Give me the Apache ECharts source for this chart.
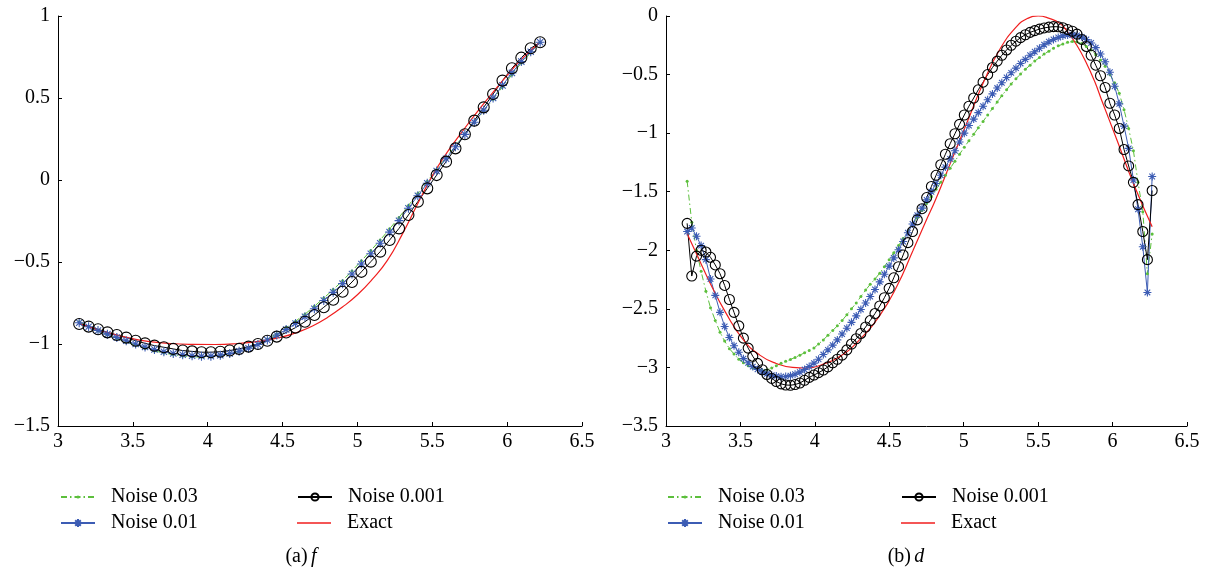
<!DOCTYPE html>
<html>
<head>
<meta charset="utf-8">
<script src="https://cdn.jsdelivr.net/npm/echarts@6/dist/echarts.min.js"></script>
<style>
html,body{margin:0;padding:0;background:#fff;}
#chart{width:1209px;height:579px;}
</style>
</head>
<body>
<div id="chart"></div>
<script>
// ---------- Left panel (a) f ----------
const xLeft = [3.1416,3.2044,3.2673,3.3301,3.3929,3.4558,3.5186,3.5814,3.6442,3.7071,3.7699,3.8327,3.8956,3.9584,4.0212,4.0841,4.1469,4.2097,4.2726,4.3354,4.3982,4.4611,4.5239,4.5867,4.6496,4.7124,4.7752,4.8381,4.9009,4.9637,5.0265,5.0894,5.1522,5.2150,5.2779,5.3407,5.4035,5.4664,5.5292,5.5920,5.6549,5.7177,5.7805,5.8434,5.9062,5.9690,6.0319,6.0947,6.1575,6.2204];
const noise003Left = [-0.865,-0.893,-0.920,-0.945,-0.967,-0.988,-1.008,-1.026,-1.042,-1.055,-1.065,-1.073,-1.078,-1.080,-1.078,-1.071,-1.060,-1.045,-1.025,-1.000,-0.970,-0.937,-0.900,-0.861,-0.818,-0.770,-0.720,-0.668,-0.614,-0.555,-0.493,-0.430,-0.366,-0.298,-0.228,-0.155,-0.082,-0.008,0.064,0.137,0.208,0.280,0.350,0.420,0.492,0.567,0.642,0.713,0.776,0.838];
const noise001Left = [-0.870,-0.895,-0.918,-0.940,-0.960,-0.980,-1.000,-1.018,-1.034,-1.047,-1.058,-1.066,-1.072,-1.075,-1.074,-1.068,-1.058,-1.044,-1.026,-1.003,-0.976,-0.945,-0.912,-0.875,-0.834,-0.785,-0.735,-0.685,-0.632,-0.573,-0.512,-0.450,-0.386,-0.318,-0.248,-0.172,-0.096,-0.020,0.055,0.130,0.203,0.278,0.352,0.425,0.500,0.577,0.653,0.722,0.782,0.840];
const noise0001Left = [-0.878,-0.894,-0.910,-0.929,-0.945,-0.961,-0.980,-0.996,-1.010,-1.020,-1.030,-1.040,-1.045,-1.050,-1.050,-1.047,-1.040,-1.030,-1.016,-1.000,-0.980,-0.955,-0.930,-0.900,-0.864,-0.823,-0.776,-0.730,-0.681,-0.622,-0.560,-0.498,-0.437,-0.366,-0.295,-0.213,-0.132,-0.051,0.030,0.112,0.193,0.279,0.362,0.443,0.524,0.606,0.681,0.746,0.803,0.840];
const exactXLeft = [3.1416,3.30,3.45,3.60,3.75,3.90,4.05,4.20,4.35,4.50,4.60,4.70,4.80,4.90,5.00,5.10,5.20,5.30,5.40,5.50,5.60,5.70,5.80,5.90,6.00,6.10,6.2204];
const exactYLeft = [-0.875,-0.922,-0.958,-0.984,-0.997,-1.002,-1.003,-0.997,-0.983,-0.957,-0.928,-0.890,-0.838,-0.775,-0.700,-0.605,-0.490,-0.330,-0.150,0.025,0.170,0.295,0.415,0.528,0.638,0.740,0.840];

// ---------- Right panel (b) d ----------
const xRight = [3.142,3.173,3.205,3.236,3.268,3.299,3.331,3.363,3.394,3.426,3.457,3.489,3.520,3.552,3.583,3.615,3.647,3.678,3.710,3.741,3.773,3.804,3.836,3.867,3.899,3.931,3.962,3.994,4.025,4.057,4.088,4.120,4.151,4.183,4.215,4.246,4.278,4.309,4.341,4.372,4.404,4.436,4.467,4.499,4.530,4.562,4.593,4.625,4.656,4.688,4.720,4.751,4.783,4.814,4.846,4.877,4.909,4.941,4.972,5.004,5.035,5.067,5.098,5.130,5.161,5.193,5.225,5.256,5.288,5.319,5.351,5.382,5.414,5.446,5.477,5.509,5.540,5.572,5.603,5.635,5.666,5.698,5.730,5.761,5.793,5.824,5.856,5.887,5.919,5.950,5.982,6.014,6.045,6.077,6.108,6.140,6.171,6.203,6.234,6.266];
const noise003Right = [-1.41,-1.76,-2.00,-2.18,-2.35,-2.49,-2.60,-2.70,-2.775,-2.84,-2.885,-2.93,-2.96,-2.985,-3.005,-3.02,-3.025,-3.02,-3.005,-2.985,-2.965,-2.948,-2.932,-2.915,-2.895,-2.875,-2.855,-2.835,-2.80,-2.765,-2.725,-2.685,-2.645,-2.60,-2.55,-2.50,-2.45,-2.395,-2.34,-2.29,-2.245,-2.195,-2.14,-2.08,-2.02,-1.96,-1.90,-1.84,-1.78,-1.72,-1.66,-1.60,-1.54,-1.48,-1.42,-1.36,-1.30,-1.24,-1.18,-1.12,-1.065,-1.01,-0.955,-0.90,-0.845,-0.79,-0.735,-0.68,-0.63,-0.58,-0.535,-0.495,-0.455,-0.42,-0.385,-0.355,-0.325,-0.30,-0.275,-0.255,-0.24,-0.225,-0.218,-0.22,-0.235,-0.26,-0.29,-0.33,-0.375,-0.43,-0.50,-0.57,-0.66,-0.80,-0.96,-1.15,-1.42,-1.67,-2.20,-1.86];
const noise001Right = [-1.84,-1.81,-1.88,-1.96,-2.08,-2.245,-2.385,-2.53,-2.65,-2.745,-2.815,-2.87,-2.925,-2.96,-2.993,-3.017,-3.038,-3.054,-3.066,-3.074,-3.079,-3.078,-3.07,-3.058,-3.04,-3.018,-2.993,-2.963,-2.93,-2.89,-2.85,-2.81,-2.765,-2.715,-2.665,-2.615,-2.56,-2.505,-2.45,-2.395,-2.335,-2.27,-2.205,-2.135,-2.065,-1.995,-1.925,-1.85,-1.775,-1.70,-1.64,-1.57,-1.50,-1.43,-1.36,-1.29,-1.22,-1.15,-1.075,-1.00,-0.935,-0.88,-0.825,-0.77,-0.715,-0.665,-0.615,-0.57,-0.525,-0.485,-0.445,-0.405,-0.37,-0.335,-0.305,-0.275,-0.245,-0.22,-0.20,-0.183,-0.17,-0.162,-0.16,-0.165,-0.178,-0.20,-0.23,-0.27,-0.325,-0.39,-0.48,-0.60,-0.75,-0.94,-1.13,-1.40,-1.65,-1.97,-2.36,-1.37];
const noise0001Right = [-1.77,-2.22,-2.05,-2.00,-2.015,-2.06,-2.125,-2.20,-2.30,-2.42,-2.53,-2.645,-2.75,-2.835,-2.905,-2.965,-3.02,-3.06,-3.094,-3.12,-3.14,-3.15,-3.152,-3.146,-3.133,-3.11,-3.085,-3.065,-3.045,-3.022,-2.995,-2.96,-2.93,-2.895,-2.85,-2.80,-2.755,-2.71,-2.655,-2.60,-2.54,-2.475,-2.405,-2.325,-2.235,-2.14,-2.04,-1.935,-1.84,-1.74,-1.645,-1.55,-1.455,-1.36,-1.27,-1.18,-1.09,-1.005,-0.925,-0.845,-0.77,-0.70,-0.63,-0.565,-0.50,-0.44,-0.385,-0.335,-0.29,-0.25,-0.215,-0.185,-0.16,-0.14,-0.125,-0.112,-0.102,-0.095,-0.091,-0.092,-0.10,-0.115,-0.13,-0.155,-0.20,-0.26,-0.335,-0.42,-0.51,-0.61,-0.745,-0.845,-0.96,-1.14,-1.28,-1.42,-1.61,-1.84,-2.08,-1.49];
const exactXRight = [3.1416,3.21,3.30,3.40,3.52,3.63,3.74,3.85,3.95,4.05,4.17,4.30,4.44,4.55,4.66,4.75,4.81,4.91,5.02,5.13,5.24,5.355,5.43,5.50,5.57,5.646,5.70,5.76,5.82,5.88,5.93,6.03,6.14,6.266];
const exactYRight = [-1.856,-2.045,-2.29,-2.53,-2.765,-2.895,-2.966,-3.000,-3.005,-2.975,-2.905,-2.765,-2.55,-2.31,-2.00,-1.74,-1.571,-1.258,-0.916,-0.575,-0.29,-0.091,-0.02,0.000,-0.018,-0.063,-0.14,-0.25,-0.39,-0.56,-0.73,-1.06,-1.43,-1.80];

const seriesNames = ['Noise 0.03','Noise 0.01','Noise 0.001','Exact'];
const captions = [['(a)','f'],['(b)','d']];

const FONT = "'Liberation Serif', 'Times New Roman', Times, serif";
const GREEN = '#5cbf3c', BLUE = '#3c5cb4', BLACK = '#000000', RED = '#f01e1e';
const STAR = 'path://M5,0L5,10M0,5L10,5M1.5,1.5L8.5,8.5M1.5,8.5L8.5,1.5';
const LINE_ICON = 'path://M0,0L34,0L34,1.4L0,1.4Z';

function pairs(xs, ys){ return xs.map((x,i)=>[x, ys[i]]); }

function axisCommon(){
  return {
    axisLine:{show:true,onZero:false,lineStyle:{color:'#000',width:1}},
    axisTick:{show:true,inside:true,length:4,lineStyle:{color:'#000',width:1}},
    splitLine:{show:false}
  };
}
function minusFmt(v){ return String(v).replace('-', '\u2212'); }

function panelSeries(idx, xs, g, b, k, ex, ey, starSize, circSize){
  return [
    {name:seriesNames[0],type:'line',xAxisIndex:idx,yAxisIndex:idx,data:pairs(xs,g),
     symbol:'circle',symbolSize:3,showSymbol:true,
     itemStyle:{color:GREEN},lineStyle:{color:GREEN,width:1,type:[6,3,1.5,3]}},
    {name:seriesNames[1],type:'line',xAxisIndex:idx,yAxisIndex:idx,data:pairs(xs,b),
     symbol:STAR,symbolSize:starSize,showSymbol:true,
     itemStyle:{color:BLUE,borderColor:BLUE,borderWidth:1.1},lineStyle:{color:BLUE,width:1}},
    {name:seriesNames[2],type:'line',xAxisIndex:idx,yAxisIndex:idx,data:pairs(xs,k),
     symbol:'circle',symbolSize:circSize,showSymbol:true,
     itemStyle:{color:'rgba(0,0,0,0)',borderColor:BLACK,borderWidth:1.1},lineStyle:{color:BLACK,width:1}},
    {name:seriesNames[3],type:'line',xAxisIndex:idx,yAxisIndex:idx,data:pairs(ex,ey),
     symbol:'none',smooth:true,lineStyle:{color:RED,width:1.2},itemStyle:{color:RED}}
  ];
}

function legendItem(left, top, name, itemH, icon){
  const d = icon ? {name:name, icon:icon} : {name:name};
  return {
    left:left, top:top, orient:'vertical', padding:0, itemGap:0,
    itemWidth:34, itemHeight:itemH, selectedMode:false,
    data:[d],
    textStyle:{fontFamily:FONT,fontSize:20,color:'#000',lineHeight:20,padding:[0,0,0,11]}
  };
}

const chart = echarts.init(document.getElementById('chart'), null, {renderer:'canvas'});
const lab = {color:'#000',fontFamily:FONT,fontSize:20};
const option = {
  animation:false,
  backgroundColor:'#ffffff',
  textStyle:{fontFamily:FONT},
  grid:[
    {left:58,top:16,width:524,height:410},
    {left:666,top:16,width:521,height:410}
  ],
  xAxis:[0,1].map(i=>Object.assign({type:'value',gridIndex:i,min:3,max:6.5,interval:0.5}, axisCommon(),
        {axisLabel:Object.assign({margin:6},lab)})),
  yAxis:[
    Object.assign({type:'value',gridIndex:0,min:-1.5,max:1,interval:0.5}, axisCommon(),
      {axisLabel:Object.assign({margin:8,formatter:minusFmt},lab)}),
    Object.assign({type:'value',gridIndex:1,min:-3.5,max:0,interval:0.5}, axisCommon(),
      {axisLabel:Object.assign({margin:8,formatter:minusFmt},lab)})
  ],
  legend:[
    legendItem(60,487,seriesNames[0],4),
    legendItem(60,513,seriesNames[1],10),
    legendItem(297,487,seriesNames[2],9),
    legendItem(297,513,seriesNames[3],12,LINE_ICON),
    legendItem(667,487,seriesNames[0],4),
    legendItem(667,513,seriesNames[1],10),
    legendItem(901,487,seriesNames[2],9),
    legendItem(901,513,seriesNames[3],12,LINE_ICON)
  ],
  graphic:[
    {type:'text',x:301,y:557,style:{text:'{n|'+captions[0][0]+'} {i|'+captions[0][1]+'}',
      textAlign:'center',textVerticalAlign:'middle',
      rich:{n:{fontFamily:FONT,fontSize:20,fill:'#000'},i:{fontFamily:FONT,fontSize:20,fontStyle:'italic',fill:'#000'}}}},
    {type:'text',x:906,y:557,style:{text:'{n|'+captions[1][0]+'} {i|'+captions[1][1]+'}',
      textAlign:'center',textVerticalAlign:'middle',
      rich:{n:{fontFamily:FONT,fontSize:20,fill:'#000'},i:{fontFamily:FONT,fontSize:20,fontStyle:'italic',fill:'#000'}}}}
  ],
  series:[].concat(
    panelSeries(0, xLeft, noise003Left, noise001Left, noise0001Left, exactXLeft, exactYLeft, 9, 11),
    panelSeries(1, xRight, noise003Right, noise001Right, noise0001Right, exactXRight, exactYRight, 8, 10)
  )
};
chart.setOption(option);
</script>
</body>
</html>
